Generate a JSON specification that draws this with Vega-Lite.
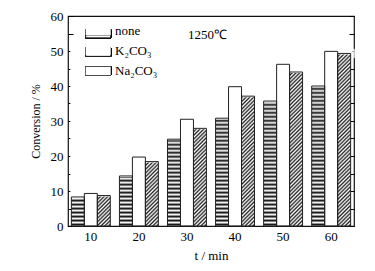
{
  "$schema": "https://vega.github.io/schema/vega-lite/v6.json",
  "width": 286,
  "height": 210,
  "autosize": {"type": "none"},
  "padding": {"left": 68, "top": 16, "right": 21, "bottom": 45},
  "config": {"view": {"stroke": "#111", "strokeWidth": 1.2}, "font": "Liberation Serif"},
  "data": {"values": [
    {"t": 10, "catalyst": "none", "value": 8.3},
    {"t": 10, "catalyst": "K₂CO₃", "value": 9.3},
    {"t": 10, "catalyst": "Na₂CO₃", "value": 8.7},
    {"t": 20, "catalyst": "none", "value": 14.3},
    {"t": 20, "catalyst": "K₂CO₃", "value": 19.7},
    {"t": 20, "catalyst": "Na₂CO₃", "value": 18.4},
    {"t": 30, "catalyst": "none", "value": 24.8},
    {"t": 30, "catalyst": "K₂CO₃", "value": 30.5},
    {"t": 30, "catalyst": "Na₂CO₃", "value": 27.9},
    {"t": 40, "catalyst": "none", "value": 30.8},
    {"t": 40, "catalyst": "K₂CO₃", "value": 39.8},
    {"t": 40, "catalyst": "Na₂CO₃", "value": 37.1},
    {"t": 50, "catalyst": "none", "value": 35.7},
    {"t": 50, "catalyst": "K₂CO₃", "value": 46.2},
    {"t": 50, "catalyst": "Na₂CO₃", "value": 44.0},
    {"t": 60, "catalyst": "none", "value": 40.0},
    {"t": 60, "catalyst": "K₂CO₃", "value": 49.9},
    {"t": 60, "catalyst": "Na₂CO₃", "value": 49.3}
  ]},
  "encoding": {
    "x": {
      "field": "t", "type": "ordinal",
      "scale": {"domain": [10, 20, 30, 40, 50, 60], "paddingInner": 0.19, "paddingOuter": 0.07},
      "axis": {
        "title": "t / min", "titleFont": "Liberation Serif", "titleFontSize": 13, "titleFontWeight": "normal",
        "titleColor": "black", "titlePadding": 6,
        "labelAngle": 0, "labelFont": "Liberation Serif", "labelFontSize": 13, "labelColor": "black",
        "labelPadding": 4, "ticks": false, "domain": false, "grid": false
      }
    }
  },
  "layer": [
    {
      "mark": {"type": "point", "filled": true, "fill": "white", "stroke": "white", "strokeWidth": 1, "size": 278},
      "encoding": {
        "xOffset": {"field": "catalyst", "type": "nominal", "scale": {"domain": ["none", "K₂CO₃", "Na₂CO₃"], "paddingInner": 0, "paddingOuter": 0}},
        "y": {"field": "value", "type": "quantitative", "scale": {"domain": [0, 60], "nice": false, "zero": true}, "axis": null},
        "shape": {
          "field": "catalyst", "type": "nominal",
          "scale": {"domain": ["none", "K₂CO₃", "Na₂CO₃"], "range": [
            "M-1,-0.5h3v1h-3z M-1,-0.17h3 M-1,0.17h3",
            "M-1,-0.5h3v1h-3z",
            "M-1,-0.5h3v1h-3z M-1,-0.3L-0.8,-0.5 M-1,0.1L-0.4,-0.5 M-1,0.5L0,-0.5 M-0.6,0.5L0.4,-0.5 M-0.2,0.5L0.8,-0.5 M0.2,0.5L1.2,-0.5 M0.6,0.5L1.6,-0.5 M1,0.5L2,-0.5 M1.4,0.5L2,-0.1 M1.8,0.5L2,0.3"
          ]},
          "legend": {
            "title": null, "orient": "none", "legendX": 17, "legendY": 6,
            "symbolSize": 278, "symbolStrokeColor": "#111", "symbolFillColor": "white",
            "symbolStrokeWidth": 1, "symbolOpacity": 1,
            "labelFont": "Liberation Serif", "labelFontSize": 13, "labelColor": "black", "labelOffset": 12,
            "rowPadding": 4
          }
        }
      }
    },
    {
      "transform": [{"filter": "datum.catalyst === 'Na₂CO₃'"}],
      "mark": {
        "type": "bar", "strokeWidth": 0,
        "fill": {"gradient": "linear", "x1": 0, "y1": 0, "x2": 0.0792, "y2": 1.0684, "stops": [
          {"offset": 0, "color": "#fff"}, {"offset": 0.01, "color": "#222"}, {"offset": 0.02, "color": "#fff"}, {"offset": 0.03, "color": "#222"}, {"offset": 0.04, "color": "#fff"},
          {"offset": 0.05, "color": "#222"}, {"offset": 0.06, "color": "#fff"}, {"offset": 0.07, "color": "#222"}, {"offset": 0.08, "color": "#fff"}, {"offset": 0.09, "color": "#222"},
          {"offset": 0.10, "color": "#fff"}, {"offset": 0.11, "color": "#222"}, {"offset": 0.12, "color": "#fff"}, {"offset": 0.13, "color": "#222"}, {"offset": 0.14, "color": "#fff"},
          {"offset": 0.15, "color": "#222"}, {"offset": 0.16, "color": "#fff"}, {"offset": 0.17, "color": "#222"}, {"offset": 0.18, "color": "#fff"}, {"offset": 0.19, "color": "#222"},
          {"offset": 0.20, "color": "#fff"}, {"offset": 0.21, "color": "#222"}, {"offset": 0.22, "color": "#fff"}, {"offset": 0.23, "color": "#222"}, {"offset": 0.24, "color": "#fff"},
          {"offset": 0.25, "color": "#222"}, {"offset": 0.26, "color": "#fff"}, {"offset": 0.27, "color": "#222"}, {"offset": 0.28, "color": "#fff"}, {"offset": 0.29, "color": "#222"},
          {"offset": 0.30, "color": "#fff"}, {"offset": 0.31, "color": "#222"}, {"offset": 0.32, "color": "#fff"}, {"offset": 0.33, "color": "#222"}, {"offset": 0.34, "color": "#fff"},
          {"offset": 0.35, "color": "#222"}, {"offset": 0.36, "color": "#fff"}, {"offset": 0.37, "color": "#222"}, {"offset": 0.38, "color": "#fff"}, {"offset": 0.39, "color": "#222"},
          {"offset": 0.40, "color": "#fff"}, {"offset": 0.41, "color": "#222"}, {"offset": 0.42, "color": "#fff"}, {"offset": 0.43, "color": "#222"}, {"offset": 0.44, "color": "#fff"},
          {"offset": 0.45, "color": "#222"}, {"offset": 0.46, "color": "#fff"}, {"offset": 0.47, "color": "#222"}, {"offset": 0.48, "color": "#fff"}, {"offset": 0.49, "color": "#222"},
          {"offset": 0.50, "color": "#fff"}, {"offset": 0.51, "color": "#222"}, {"offset": 0.52, "color": "#fff"}, {"offset": 0.53, "color": "#222"}, {"offset": 0.54, "color": "#fff"},
          {"offset": 0.55, "color": "#222"}, {"offset": 0.56, "color": "#fff"}, {"offset": 0.57, "color": "#222"}, {"offset": 0.58, "color": "#fff"}, {"offset": 0.59, "color": "#222"},
          {"offset": 0.60, "color": "#fff"}, {"offset": 0.61, "color": "#222"}, {"offset": 0.62, "color": "#fff"}, {"offset": 0.63, "color": "#222"}, {"offset": 0.64, "color": "#fff"},
          {"offset": 0.65, "color": "#222"}, {"offset": 0.66, "color": "#fff"}, {"offset": 0.67, "color": "#222"}, {"offset": 0.68, "color": "#fff"}, {"offset": 0.69, "color": "#222"},
          {"offset": 0.70, "color": "#fff"}, {"offset": 0.71, "color": "#222"}, {"offset": 0.72, "color": "#fff"}, {"offset": 0.73, "color": "#222"}, {"offset": 0.74, "color": "#fff"},
          {"offset": 0.75, "color": "#222"}, {"offset": 0.76, "color": "#fff"}, {"offset": 0.77, "color": "#222"}, {"offset": 0.78, "color": "#fff"}, {"offset": 0.79, "color": "#222"},
          {"offset": 0.80, "color": "#fff"}, {"offset": 0.81, "color": "#222"}, {"offset": 0.82, "color": "#fff"}, {"offset": 0.83, "color": "#222"}, {"offset": 0.84, "color": "#fff"},
          {"offset": 0.85, "color": "#222"}, {"offset": 0.86, "color": "#fff"}, {"offset": 0.87, "color": "#222"}, {"offset": 0.88, "color": "#fff"}, {"offset": 0.89, "color": "#222"},
          {"offset": 0.90, "color": "#fff"}, {"offset": 0.91, "color": "#222"}, {"offset": 0.92, "color": "#fff"}, {"offset": 0.93, "color": "#222"}, {"offset": 0.94, "color": "#fff"},
          {"offset": 0.95, "color": "#222"}, {"offset": 0.96, "color": "#fff"}, {"offset": 0.97, "color": "#222"}, {"offset": 0.98, "color": "#fff"}, {"offset": 0.99, "color": "#222"},
          {"offset": 1, "color": "#fff"}
        ]}
      },
      "encoding": {
        "xOffset": {"field": "catalyst", "type": "nominal", "scale": {"domain": ["none", "K₂CO₃", "Na₂CO₃"], "paddingInner": 0, "paddingOuter": 0}},
        "y": {"datum": 0, "type": "quantitative", "scale": {"domain": [0, 60], "nice": false, "zero": true}, "axis": null},
        "y2": {"datum": 50}
      }
    },
    {
      "transform": [{"filter": "datum.catalyst === 'none'"}],
      "mark": {
        "type": "bar", "strokeWidth": 0,
        "fill": {"gradient": "linear", "x1": 0, "y1": 0, "x2": 0, "y2": 1.14, "stops": [
          {"offset": 0, "color": "#fff"}, {"offset": 0.01, "color": "#111"}, {"offset": 0.02, "color": "#fff"}, {"offset": 0.03, "color": "#111"}, {"offset": 0.04, "color": "#fff"},
          {"offset": 0.05, "color": "#111"}, {"offset": 0.06, "color": "#fff"}, {"offset": 0.07, "color": "#111"}, {"offset": 0.08, "color": "#fff"}, {"offset": 0.09, "color": "#111"},
          {"offset": 0.10, "color": "#fff"}, {"offset": 0.11, "color": "#111"}, {"offset": 0.12, "color": "#fff"}, {"offset": 0.13, "color": "#111"}, {"offset": 0.14, "color": "#fff"},
          {"offset": 0.15, "color": "#111"}, {"offset": 0.16, "color": "#fff"}, {"offset": 0.17, "color": "#111"}, {"offset": 0.18, "color": "#fff"}, {"offset": 0.19, "color": "#111"},
          {"offset": 0.20, "color": "#fff"}, {"offset": 0.21, "color": "#111"}, {"offset": 0.22, "color": "#fff"}, {"offset": 0.23, "color": "#111"}, {"offset": 0.24, "color": "#fff"},
          {"offset": 0.25, "color": "#111"}, {"offset": 0.26, "color": "#fff"}, {"offset": 0.27, "color": "#111"}, {"offset": 0.28, "color": "#fff"}, {"offset": 0.29, "color": "#111"},
          {"offset": 0.30, "color": "#fff"}, {"offset": 0.31, "color": "#111"}, {"offset": 0.32, "color": "#fff"}, {"offset": 0.33, "color": "#111"}, {"offset": 0.34, "color": "#fff"},
          {"offset": 0.35, "color": "#111"}, {"offset": 0.36, "color": "#fff"}, {"offset": 0.37, "color": "#111"}, {"offset": 0.38, "color": "#fff"}, {"offset": 0.39, "color": "#111"},
          {"offset": 0.40, "color": "#fff"}, {"offset": 0.41, "color": "#111"}, {"offset": 0.42, "color": "#fff"}, {"offset": 0.43, "color": "#111"}, {"offset": 0.44, "color": "#fff"},
          {"offset": 0.45, "color": "#111"}, {"offset": 0.46, "color": "#fff"}, {"offset": 0.47, "color": "#111"}, {"offset": 0.48, "color": "#fff"}, {"offset": 0.49, "color": "#111"},
          {"offset": 0.50, "color": "#fff"}, {"offset": 0.51, "color": "#111"}, {"offset": 0.52, "color": "#fff"}, {"offset": 0.53, "color": "#111"}, {"offset": 0.54, "color": "#fff"},
          {"offset": 0.55, "color": "#111"}, {"offset": 0.56, "color": "#fff"}, {"offset": 0.57, "color": "#111"}, {"offset": 0.58, "color": "#fff"}, {"offset": 0.59, "color": "#111"},
          {"offset": 0.60, "color": "#fff"}, {"offset": 0.61, "color": "#111"}, {"offset": 0.62, "color": "#fff"}, {"offset": 0.63, "color": "#111"}, {"offset": 0.64, "color": "#fff"},
          {"offset": 0.65, "color": "#111"}, {"offset": 0.66, "color": "#fff"}, {"offset": 0.67, "color": "#111"}, {"offset": 0.68, "color": "#fff"}, {"offset": 0.69, "color": "#111"},
          {"offset": 0.70, "color": "#fff"}, {"offset": 0.71, "color": "#111"}, {"offset": 0.72, "color": "#fff"}, {"offset": 0.73, "color": "#111"}, {"offset": 0.74, "color": "#fff"},
          {"offset": 0.75, "color": "#111"}, {"offset": 0.76, "color": "#fff"}, {"offset": 0.77, "color": "#111"}, {"offset": 0.78, "color": "#fff"}, {"offset": 0.79, "color": "#111"},
          {"offset": 0.80, "color": "#fff"}, {"offset": 0.81, "color": "#111"}, {"offset": 0.82, "color": "#fff"}, {"offset": 0.83, "color": "#111"}, {"offset": 0.84, "color": "#fff"},
          {"offset": 0.85, "color": "#111"}, {"offset": 0.86, "color": "#fff"}, {"offset": 0.87, "color": "#111"}, {"offset": 0.88, "color": "#fff"}, {"offset": 0.89, "color": "#111"},
          {"offset": 0.90, "color": "#fff"}, {"offset": 0.91, "color": "#111"}, {"offset": 0.92, "color": "#fff"}, {"offset": 0.93, "color": "#111"}, {"offset": 0.94, "color": "#fff"},
          {"offset": 0.95, "color": "#111"}, {"offset": 0.96, "color": "#fff"}, {"offset": 0.97, "color": "#111"}, {"offset": 0.98, "color": "#fff"}, {"offset": 0.99, "color": "#111"},
          {"offset": 1, "color": "#fff"}
        ]}
      },
      "encoding": {
        "xOffset": {"field": "catalyst", "type": "nominal", "scale": {"domain": ["none", "K₂CO₃", "Na₂CO₃"], "paddingInner": 0, "paddingOuter": 0}},
        "y": {"datum": 0, "type": "quantitative", "scale": {"domain": [0, 60], "nice": false, "zero": true}, "axis": null},
        "y2": {"datum": 50}
      }
    },
    {
      "transform": [{"filter": "datum.catalyst !== 'K₂CO₃'"}],
      "mark": {"type": "bar", "fill": "white", "stroke": "white", "strokeWidth": 2},
      "encoding": {
        "xOffset": {"field": "catalyst", "type": "nominal", "scale": {"domain": ["none", "K₂CO₃", "Na₂CO₃"], "paddingInner": 0, "paddingOuter": 0}},
        "y": {"field": "value", "type": "quantitative", "scale": {"domain": [0, 60], "nice": false, "zero": true}, "axis": null},
        "y2": {"datum": 50}
      }
    },
    {
      "mark": {"type": "bar", "stroke": "#222", "strokeWidth": 1, "fill": "transparent"},
      "encoding": {
        "xOffset": {"field": "catalyst", "type": "nominal", "scale": {"domain": ["none", "K₂CO₃", "Na₂CO₃"], "paddingInner": 0, "paddingOuter": 0}},
        "y": {
          "field": "value", "type": "quantitative",
          "scale": {"domain": [0, 60], "nice": false, "zero": true},
          "axis": {
            "orient": "left",
            "title": "Conversion / %", "titleFont": "Liberation Serif", "titleFontSize": 12, "titleFontWeight": "normal",
            "titleColor": "black", "titlePadding": 8,
            "values": [0, 5, 10, 15, 20, 25, 30, 35, 40, 45, 50, 55, 60],
            "labelExpr": "datum.value % 10 === 0 ? datum.label : ''",
            "labelFont": "Liberation Serif", "labelFontSize": 13, "labelColor": "black", "labelPadding": 10,
            "labelFlush": false,
            "tickSize": -5, "tickColor": "black", "tickWidth": 1, "domain": false, "grid": false
          }
        }
      }
    },
    {
      "mark": {"type": "bar", "width": 25, "xOffset": 7.4, "stroke": "#111", "strokeWidth": 1,
               "fill": {"gradient": "linear", "x1": 0, "y1": 0, "x2": 0, "y2": 1, "stops": [
                 {"offset": 0, "color": "#fff"}, {"offset": 0.22, "color": "#fff"}, {"offset": 0.34, "color": "#222"}, {"offset": 0.46, "color": "#fff"},
                 {"offset": 0.54, "color": "#fff"}, {"offset": 0.66, "color": "#222"}, {"offset": 0.78, "color": "#fff"}, {"offset": 1, "color": "#fff"}
               ]}},
      "encoding": {
        "x": {"datum": 10, "type": "ordinal"},
        "y": {"datum": 53.75, "type": "quantitative", "scale": {"domain": [0, 60], "nice": false, "zero": true}, "axis": null},
        "y2": {"datum": 56.12}
      }
    },
    {
      "mark": {"type": "bar", "width": 25, "xOffset": 7.4, "stroke": "#111", "strokeWidth": 1, "fill": "white"},
      "encoding": {
        "x": {"datum": 10, "type": "ordinal"},
        "y": {"datum": 48.47, "type": "quantitative", "scale": {"domain": [0, 60], "nice": false, "zero": true}, "axis": null},
        "y2": {"datum": 50.84}
      }
    },
    {
      "mark": {"type": "bar", "width": 25, "xOffset": 7.4, "stroke": "#111", "strokeWidth": 1,
               "fill": {"gradient": "linear", "x1": 0, "y1": 0, "x2": 1.2, "y2": 0.398, "stops": [
                 {"offset": 0, "color": "#fff"}, {"offset": 0.05, "color": "#222"}, {"offset": 0.10, "color": "#fff"}, {"offset": 0.15, "color": "#222"},
                 {"offset": 0.20, "color": "#fff"}, {"offset": 0.25, "color": "#222"}, {"offset": 0.30, "color": "#fff"}, {"offset": 0.35, "color": "#222"},
                 {"offset": 0.40, "color": "#fff"}, {"offset": 0.45, "color": "#222"}, {"offset": 0.50, "color": "#fff"}, {"offset": 0.55, "color": "#222"},
                 {"offset": 0.60, "color": "#fff"}, {"offset": 0.65, "color": "#222"}, {"offset": 0.70, "color": "#fff"}, {"offset": 0.75, "color": "#222"},
                 {"offset": 0.80, "color": "#fff"}, {"offset": 0.85, "color": "#222"}, {"offset": 0.90, "color": "#fff"}, {"offset": 0.95, "color": "#222"},
                 {"offset": 1, "color": "#fff"}
               ]}},
      "encoding": {
        "x": {"datum": 10, "type": "ordinal"},
        "y": {"datum": 43.18, "type": "quantitative", "scale": {"domain": [0, 60], "nice": false, "zero": true}, "axis": null},
        "y2": {"datum": 45.55}
      }
    },
    {
      "data": {"values": [{"t": 30, "value": 54.6, "label": "1250℃"}]},
      "mark": {"type": "text", "align": "left", "baseline": "middle", "font": "Liberation Serif", "fontSize": 13, "color": "black", "dx": 1},
      "encoding": {
        "y": {
          "field": "value", "type": "quantitative",
          "scale": {"domain": [0, 60], "nice": false, "zero": true},
          "axis": {
            "orient": "right", "title": null, "labels": false,
            "values": [0, 5, 10, 15, 20, 25, 30, 35, 40, 45, 50, 55, 60],
            "tickSize": -5, "tickColor": "black", "tickWidth": 1, "domain": false, "grid": false
          }
        },
        "text": {"field": "label"}
      }
    }
  ],
  "resolve": {"axis": {"y": "independent"}}
}
